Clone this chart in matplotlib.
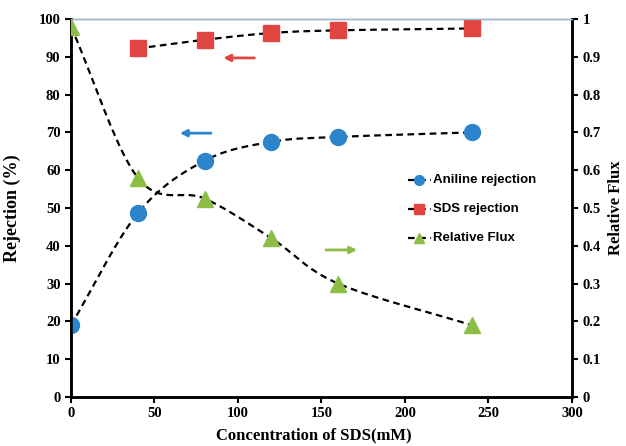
import numpy as np
import matplotlib.pyplot as plt

# SDS concentration (mM)
conc = [0, 40, 80, 120, 160, 240]
aniline_rej = [19.0, 48.6, 62.5, 67.5, 68.8, 70.0]
sds_conc = [40, 80, 120, 160, 240]
sds_rej = [92.2, 94.5, 96.3, 97.0, 97.5]
rel_flux = [0.98, 0.58, 0.525, 0.42, 0.30, 0.19]

BLUE = '#2c84cb'
RED = '#e04541'
GREEN = '#8cbd45'
SERIF = 'Liberation Serif'
SANS = 'Liberation Sans'


def smooth(x, y, xs, ys, n=40):
    # Catmull-Rom curve through the points, done in normalised units
    px = np.asarray(x, float) / xs
    py = np.asarray(y, float) / ys
    px = np.r_[2 * px[0] - px[1], px, 2 * px[-1] - px[-2]]
    py = np.r_[2 * py[0] - py[1], py, 2 * py[-1] - py[-2]]
    outx, outy = [], []
    t = np.linspace(0, 1, n)
    for i in range(1, len(px) - 2):
        for p, out in ((px, outx), (py, outy)):
            p0, p1, p2, p3 = p[i - 1], p[i], p[i + 1], p[i + 2]
            out.extend(0.5 * (2 * p1 + (-p0 + p2) * t
                              + (2 * p0 - 5 * p1 + 4 * p2 - p3) * t ** 2
                              + (-p0 + 3 * p1 - 3 * p2 + p3) * t ** 3))
    return np.array(outx) * xs, np.array(outy) * ys


fig = plt.figure(figsize=(6.26, 4.46), dpi=100)
ax = fig.add_axes([0.1134, 0.1099, 0.8003, 0.8475])
ax2 = ax.twinx()

dash = dict(color='black', lw=1.6, ls=(0, (3, 2)))

sx, sy = smooth(conc, aniline_rej, 300, 100)
ax.plot(sx, sy, **dash, zorder=2)
sx, sy = smooth(sds_conc, sds_rej, 300, 100)
ax.plot(sx, sy, **dash, zorder=2)
sx, sy = smooth(conc, rel_flux, 300, 1)
ax2.plot(sx, sy, **dash, zorder=2)

ax.plot(conc, aniline_rej, 'o', color=BLUE, ms=11.5, mec=BLUE, zorder=3)
ax.plot(sds_conc, sds_rej, 's', color=RED, ms=11, mec=RED, zorder=3)
ax2.plot(conc, rel_flux, '^', color=GREEN, ms=12, mec=GREEN, zorder=3)

ax.set_xlim(0, 300)
ax.set_ylim(0, 100)
ax2.set_ylim(0, 1)
ax.set_xticks(range(0, 301, 50))
ax.set_yticks(range(0, 101, 10))
ax2.set_yticks(np.arange(0, 1.01, 0.1))
ax2.set_yticklabels(['0', '0.1', '0.2', '0.3', '0.4', '0.5', '0.6',
                     '0.7', '0.8', '0.9', '1'])

for a in (ax, ax2):
    a.tick_params(direction='out', length=4, width=1.5, labelsize=10.5)
    for lab in a.get_xticklabels() + a.get_yticklabels():
        lab.set_fontfamily(SERIF)
        lab.set_fontweight('bold')
    for side in ('left', 'right', 'bottom'):
        a.spines[side].set_linewidth(1.8)
    a.spines['top'].set_color('#9db3cf')
    a.spines['top'].set_linewidth(1.0)

fig.text(0.5017, 0.006, 'Concentration of SDS(mM)', ha='center', va='bottom',
         fontfamily=SERIF, fontweight='bold', fontsize=12)
ax.set_ylabel('Rejection (%)', fontfamily=SERIF, fontweight='bold',
              fontsize=13)
ax.yaxis.set_label_coords(-0.1, 0.5)
ax2.set_ylabel('Relative Flux', fontfamily=SERIF, fontweight='bold',
               fontsize=12, rotation=90)
ax2.yaxis.set_label_coords(1.072, 0.5)

# arrows showing which axis each series belongs to
arr = dict(arrowstyle='-|>', lw=2.0, mutation_scale=10)
ax.annotate('', xy=(89.5, 89.7), xytext=(111.5, 89.7),
            arrowprops=dict(color=RED, **arr))
ax.annotate('', xy=(63.5, 69.8), xytext=(85.5, 69.8),
            arrowprops=dict(color=BLUE, **arr))
ax.annotate('', xy=(173, 38.9), xytext=(151, 38.9),
            arrowprops=dict(color=GREEN, **arr))

# legend
lx = 0.673
rows = [0.574, 0.497, 0.421]
entries = [('o', BLUE, 'Aniline rejection'),
           ('s', RED, 'SDS rejection'),
           ('^', GREEN, 'Relative Flux')]
for y, (m, c, txt) in zip(rows, entries):
    ax.plot([lx, lx + 0.045], [y, y], transform=ax.transAxes,
            color='black', lw=1.6, ls=(0, (3, 2)), clip_on=False)
    ax.plot([lx + 0.0225], [y], m, color=c, ms=7, transform=ax.transAxes)
    ax.text(lx + 0.05, y, txt, transform=ax.transAxes, va='center',
            fontfamily=SANS, fontweight='bold', fontsize=9.5)

fig.savefig('out.png', dpi=100)
